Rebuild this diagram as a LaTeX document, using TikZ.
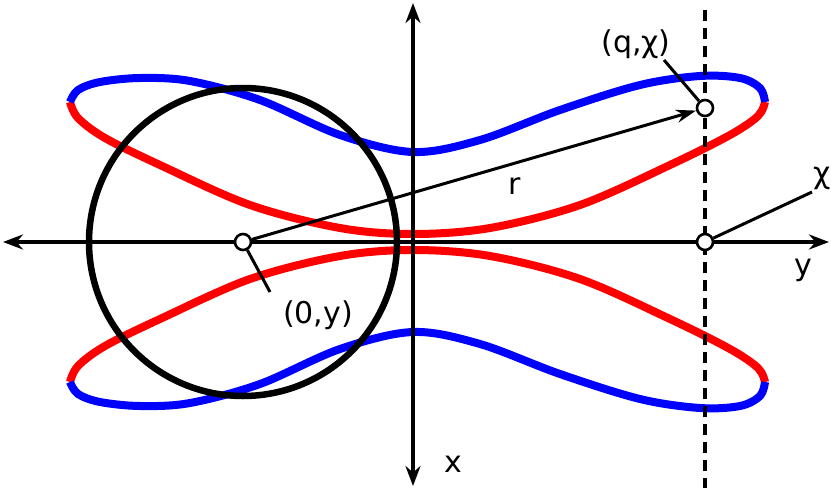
\documentclass[tikz,border=0pt]{standalone}
\usepackage{fontspec}
\setmainfont{DejaVu Sans}
\usetikzlibrary{arrows.meta}
\begin{document}
\begin{tikzpicture}[x=1pt,y=-1pt,
  blueline/.style={draw=blue,line width=8pt,line cap=butt},
  redline/.style={draw=red,line width=8pt,line cap=butt},
  axis/.style={line width=3.3pt,{Stealth[length=20pt,width=15pt]}-{Stealth[length=20pt,width=15pt]}},
  pt/.style={circle,draw,fill=white,line width=2.6pt,inner sep=0pt,minimum size=16pt},
  lbl/.style={font=\fontsize{30}{36}\selectfont,inner sep=1pt},
  lead/.style={line width=3pt}]
\useasboundingbox (0,0) rectangle (831,488);
% upper loop
\draw[redline] plot[smooth,tension=0.55] coordinates{(70,102)(78,118)(105,138)(160,165)(250,205)(340,228)(413,234)(490,228)(580,205)(670,165)(730,135)(758,116)(765,102)};
\draw[blueline] plot[smooth,tension=0.55] coordinates{(70,102)(78,90)(100,82)(140,78)(190,81)(260,100)(340,135)(413,152)(480,140)(560,110)(640,85)(700,76)(740,78)(760,88)(765,102)};
% lower loop
\draw[redline] plot[smooth,tension=0.55] coordinates{(70,382)(78,366)(105,346)(160,319)(250,279)(340,256)(413,250)(490,256)(580,279)(670,319)(730,349)(758,368)(765,382)};
\draw[blueline] plot[smooth,tension=0.55] coordinates{(70,382)(78,394)(100,402)(140,406)(190,403)(260,384)(340,349)(413,332)(480,344)(560,374)(640,399)(700,408)(740,406)(760,396)(765,382)};
% circle
\node[circle,draw,line width=6.5pt,minimum size=308pt,inner sep=0pt] (circ) at (243,242) {};
% axes
\coordinate (hl) at (3,242); \coordinate (hr) at (829,242);
\coordinate (vt) at (413,3); \coordinate (vb) at (413,486);
\draw[axis] (hl) -- (hr);
\draw[axis] (vt) -- (vb);
% dashed
\coordinate (dt) at (705,10); \coordinate (db) at (705,488);
\draw[line width=3.3pt,dash pattern=on 11pt off 7pt] (dt) -- (db);
% points
\node[pt] (o) at (243,242) {};
\node[pt] (q) at (705,108) {};
\node[pt] (c) at (705,242) {};
\draw[line width=3pt,-{Stealth[length=20pt,width=13pt]}] (o) -- (q);
\node[lbl] (r) at (515,186) {r};
\node[lbl] (ql) at (636,44) {(q,χ)};
\draw[lead] (664,60) -- (q);
\node[lbl] (cl) at (822,178) {χ};
\draw[lead] (812,192) -- (c);
\node[lbl] (ol) at (318,315) {(0,y)};
\draw[lead] (270,292) -- (o);
\node[lbl] (yl) at (803,270) {y};
\node[lbl] (xl) at (453,464) {x};
\end{tikzpicture}
\end{document}
